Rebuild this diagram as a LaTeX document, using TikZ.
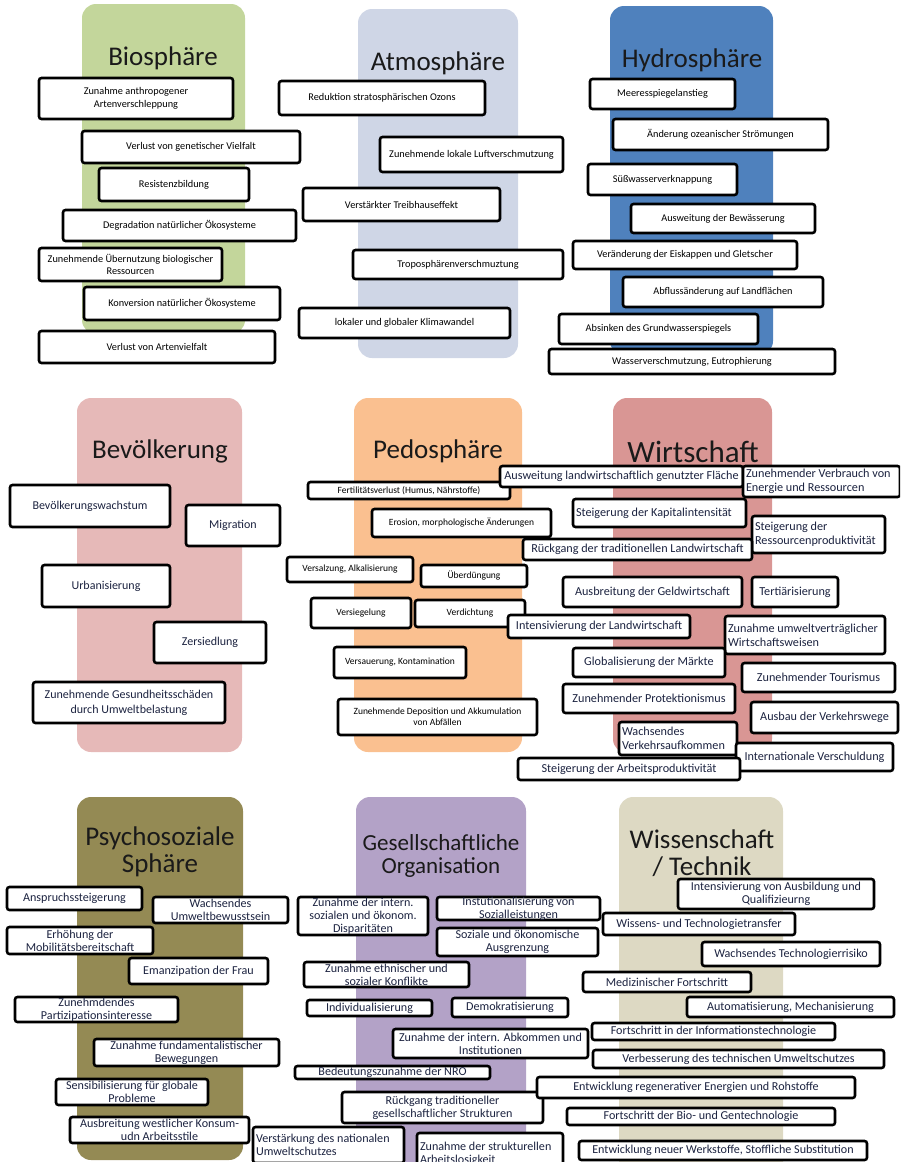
\documentclass[tikz,border=0pt]{standalone}
\usepackage{fontspec}
\setmainfont{Carlito}
\usepackage{tikz}
\definecolor{BioGreen}{HTML}{C3D69B}
\definecolor{AtmoGrey}{HTML}{CFD6E6}
\definecolor{HydroBlue}{HTML}{4F81BD}
\definecolor{PopRose}{HTML}{E6B9B8}
\definecolor{PedoApricot}{HTML}{FAC090}
\definecolor{EconRed}{HTML}{D99694}
\definecolor{PsychOlive}{HTML}{948A54}
\definecolor{SocLilac}{HTML}{B3A2C7}
\definecolor{TechSand}{HTML}{DDD9C3}
\definecolor{CellInk}{HTML}{1C2340}
\definecolor{TitleInk}{HTML}{1A1A1A}

\begin{document}
\begin{tikzpicture}[x=1pt, y=-1pt,
  panel/.style={fill=#1, rounded corners=14pt},
  sphere/.style={font=\fontsize{27}{27}\selectfont, text=TitleInk, align=center, inner sep=0pt},
  cell/.style={draw=black, fill=white, line width=2.6pt, rounded corners=2.5pt, inner xsep=2pt, inner ysep=-4pt, align=center, text=CellInk},
  small/.style={cell, text=black, font=\fontsize{10.3}{12.5}\selectfont},
  soil/.style={cell, text=black, font=\fontsize{9.5}{11}\selectfont},
  mid/.style={cell, font=\fontsize{12}{15}\selectfont},
  econ/.style={cell, font=\fontsize{12.2}{14}\selectfont},
  low/.style={cell, font=\fontsize{12.1}{13}\selectfont},
  flush/.style={align=flush left, inner xsep=3pt, text width=#1},
]
\useasboundingbox (0,0) rectangle (900,1162);
\clip (0,0) rectangle (900,1162);
\fill[panel=BioGreen] (82,4) rectangle (245,334);
\fill[panel=AtmoGrey] (358,9) rectangle (518,358);
\fill[panel=HydroBlue] (610,6) rectangle (773,355);
\fill[panel=PopRose] (77,398) rectangle (242,752);
\fill[panel=PedoApricot] (354,398) rectangle (522,752);
\fill[panel=EconRed] (613,398) rectangle (772,753);
\fill[panel=PsychOlive] (77,797) rectangle (243,1160);
\fill[panel=SocLilac] (356,797) rectangle (526,1180);
\fill[panel=TechSand] (619,797) rectangle (783,1180);

\node[sphere, anchor=base] (bioT) at (163,65) {Biosphäre};
\node[sphere, anchor=base] (atmT) at (438,70) {Atmosphäre};
\node[sphere, anchor=base] (hydT) at (692,67) {Hydrosphäre};
\node[sphere, anchor=base] (popT) at (160,458) {Bevölkerung};
\node[sphere, anchor=base] (pedT) at (438,458) {Pedosphäre};
\node[sphere, anchor=base, font=\fontsize{31}{31}\selectfont] (ecoT) at (693,462) {Wirtschaft};
\node[sphere] (psyT) at (160,852) {Psychosoziale\\Sphäre};
\node[sphere, font=\fontsize{23}{23}\selectfont] (socT) at (441,855.5) {Gesellschaftliche\\Organisation};
\node[sphere] (tecT) at (702,853) {Wissenschaft\\/ Technik};

\node[small, minimum width=194pt, minimum height=41pt] (bio1) at (136,98.5) {Zunahme anthropogener\\Artenverschleppung};
\node[small, minimum width=218pt, minimum height=32pt] (bio2) at (191,147) {Verlust von genetischer Vielfalt};
\node[small, minimum width=150pt, minimum height=33pt] (bio3) at (174,184.5) {Resistenzbildung};
\node[small, minimum width=233pt, minimum height=31pt] (bio4) at (179.5,225.5) {Degradation natürlicher Ökosysteme};
\node[small, minimum width=183pt, minimum height=33pt] (bio5) at (130.5,264.5) {Zunehmende Übernutzung biologischer\\Ressourcen};
\node[small, minimum width=196pt, minimum height=33pt] (bio6) at (182,303.5) {Konversion natürlicher Ökosysteme};
\node[small, minimum width=236pt, minimum height=32pt] (bio7) at (157,347) {Verlust von Artenvielfalt};

\node[small, minimum width=206pt, minimum height=34pt] (atm1) at (382,98) {Reduktion stratosphärischen Ozons};
\node[small, minimum width=183pt, minimum height=35pt] (atm2) at (471.5,154.5) {Zunehmende lokale Luftverschmutzung};
\node[small, minimum width=197pt, minimum height=33pt] (atm3) at (401.5,204.5) {Verstärkter Treibhauseffekt};
\node[small, minimum width=210pt, minimum height=29pt] (atm4) at (458,264.5) {Troposphärenverschmuztung};
\node[small, minimum width=211pt, minimum height=30pt] (atm5) at (404.5,323) {lokaler und globaler Klimawandel};

\node[small, minimum width=145pt, minimum height=30pt] (hyd1) at (662.5,94) {Meeresspiegelanstieg};
\node[small, minimum width=215pt, minimum height=31pt] (hyd2) at (720.5,134.5) {Änderung ozeanischer Strömungen};
\node[small, minimum width=149pt, minimum height=31pt] (hyd3) at (662.5,179.5) {Süßwasserverknappung};
\node[small, minimum width=184pt, minimum height=29pt] (hyd4) at (723,218.5) {Ausweitung der Bewässerung};
\node[small, minimum width=224pt, minimum height=28pt] (hyd5) at (685,255) {Veränderung der Eiskappen und Gletscher};
\node[small, minimum width=200pt, minimum height=30pt] (hyd6) at (723,292) {Abflussänderung auf Landflächen};
\node[small, minimum width=199pt, minimum height=30pt] (hyd7) at (658.5,329) {Absinken des Grundwasserspiegels};
\node[small, minimum width=286pt, minimum height=25pt] (hyd8) at (692,361.5) {Wasserverschmutzung, Eutrophierung};

\node[mid, minimum width=160pt, minimum height=42pt] (pop1) at (90,506) {Bevölkerungswachstum};
\node[mid, minimum width=94pt, minimum height=41pt] (pop2) at (233,525.5) {Migration};
\node[mid, minimum width=128pt, minimum height=42pt] (pop3) at (106,586) {Urbanisierung};
\node[mid, minimum width=112pt, minimum height=41pt] (pop4) at (210,642.5) {Zersiedlung};
\node[mid, minimum width=192pt, minimum height=41pt] (pop5) at (129,702.5) {Zunehmende Gesundheitsschäden\\durch Umweltbelastung};

\node[soil, minimum width=202pt, minimum height=17pt] (ped1) at (409,490.5) {Fertilitätsverlust (Humus, Nährstoffe)};
\node[soil, minimum width=179pt, minimum height=28pt] (ped2) at (461.5,523) {Erosion, morphologische Änderungen};
\node[soil, minimum width=126pt, minimum height=25pt] (ped3) at (350,569.5) {Versalzung, Alkalisierung};
\node[soil, minimum width=106pt, minimum height=22pt] (ped4) at (474,576) {Überdüngung};
\node[soil, minimum width=100pt, minimum height=30pt] (ped5) at (361,613) {Versiegelung};
\node[soil, minimum width=110pt, minimum height=27pt] (ped6) at (470,613.5) {Verdichtung};
\node[soil, minimum width=132pt, minimum height=31pt] (ped7) at (400,662.5) {Versauerung, Kontamination};
\node[soil, minimum width=199pt, minimum height=36pt] (ped8) at (437.5,717) {Zunehmende Deposition und Akkumulation\\von Abfällen};

\node[econ, minimum width=243pt, minimum height=21pt] (eco1) at (621.5,476.5) {Ausweitung landwirtschaftlich genutzter Fläche};
\node[econ, flush=151pt, minimum height=31pt] (eco2) at (821.5,481.5) {Zunehmender Verbrauch von\\Energie und Ressourcen};
\node[econ, flush=167pt, minimum height=28pt] (eco3) at (659.5,513) {Steigerung der Kapitalintensität};
\node[econ, flush=127pt, minimum height=37pt] (eco4) at (818.5,534.5) {Steigerung der\\Ressourcenproduktivität};
\node[econ, minimum width=229pt, minimum height=21pt] (eco5) at (637.5,549.5) {Rückgang der traditionellen Landwirtschaft};
\node[econ, minimum width=179pt, minimum height=30pt] (eco6) at (652.5,592) {Ausbreitung der Geldwirtschaft};
\node[econ, minimum width=86pt, minimum height=30pt] (eco7) at (795,592) {Tertiärisierung};
\node[econ, minimum width=182pt, minimum height=23pt] (eco8) at (599,626.5) {Intensivierung der Landwirtschaft};
\node[econ, flush=154pt, minimum height=38pt] (eco9) at (805,635) {Zunahme umweltverträglicher\\Wirtschaftsweisen};
\node[econ, minimum width=152pt, minimum height=29pt] (eco10) at (649,662.5) {Globalisierung der Märkte};
\node[econ, minimum width=153pt, minimum height=29pt] (eco11) at (818.5,677.5) {Zunehmender Tourismus};
\node[econ, minimum width=172pt, minimum height=29pt] (eco12) at (649,698.5) {Zunehmender Protektionismus};
\node[econ, minimum width=147pt, minimum height=31pt] (eco13) at (824.5,717.5) {Ausbau der Verkehrswege};
\node[econ, flush=112pt, minimum height=33pt] (eco14) at (678,738.5) {Wachsendes\\Verkehrsaufkommen};
\node[econ, minimum width=157pt, minimum height=28pt] (eco15) at (814.5,757) {Internationale Verschuldung};
\node[econ, minimum width=222pt, minimum height=22pt] (eco16) at (629,769) {Steigerung der Arbeitsproduktivität};

\node[low, minimum width=135pt, minimum height=23pt] (psy1) at (74.5,898.5) {Anspruchssteigerung};
\node[low, minimum width=135pt, minimum height=26pt] (psy2) at (220.5,910) {Wachsendes\\Umweltbewusstsein};
\node[low, minimum width=146pt, minimum height=27pt] (psy3) at (80,940.5) {Erhöhung der\\Mobilitätsbereitschaft};
\node[low, minimum width=139pt, minimum height=26pt] (psy4) at (198.5,971) {Emanzipation der Frau};
\node[low, minimum width=163pt, minimum height=25pt] (psy5) at (96.5,1009.5) {Zunehmdendes\\Partizipationsinteresse};
\node[low, minimum width=185pt, minimum height=27pt] (psy6) at (186.5,1052.5) {Zunahme fundamentalistischer\\Bewegungen};
\node[low, minimum width=152pt, minimum height=26pt] (psy7) at (132,1092) {Sensibilisierung für globale\\Probleme};
\node[low, minimum width=179pt, minimum height=26pt] (psy8) at (159.5,1130) {Ausbreitung westlicher Konsum-\\udn Arbeitsstile};

\node[low, minimum width=130pt, minimum height=38pt] (soc1) at (363,916) {Zunahme der intern.\\sozialen und ökonom.\\Disparitäten};
\node[low, minimum width=163pt, minimum height=23pt] (soc2) at (518.5,908.5) {Instutionalisierung von\\Sozialleistungen};
\node[low, minimum width=161pt, minimum height=28pt] (soc3) at (517.5,942) {Soziale und ökonomische\\Ausgrenzung};
\node[low, minimum width=165pt, minimum height=25pt] (soc4) at (386.5,974.5) {Zunahme ethnischer und\\sozialer Konflikte};
\node[low, minimum width=125pt, minimum height=16pt] (soc5) at (369.5,1008) {Individualisierung};
\node[low, minimum width=116pt, minimum height=19pt] (soc6) at (510,1007.5) {Demokratisierung};
\node[low, minimum width=195pt, minimum height=29pt] (soc7) at (490.5,1043.5) {Zunahme der intern. Abkommen und\\Institutionen};
\node[low, minimum width=195pt, minimum height=13pt] (soc8) at (392.5,1072.5) {Bedeutungszunahme der NRO};
\node[low, minimum width=201pt, minimum height=31pt] (soc9) at (442.5,1107.5) {Rückgang traditioneller\\gesellschaftlicher Strukturen};
\node[low, flush=145pt, minimum height=36pt] (soc10) at (328.5,1145) {Verstärkung des nationalen\\Umweltschutzes};
\node[low, flush=140pt, minimum height=42pt] (soc11) at (490,1154) {Zunahme der strukturellen\\Arbeitslosigkeit};

\node[low, minimum width=196pt, minimum height=30pt] (tec1) at (776,894) {Intensivierung von Ausbildung und\\Qualifizieurng};
\node[low, minimum width=192pt, minimum height=22pt] (tec2) at (699,924) {Wissens- und Technologietransfer};
\node[low, minimum width=178pt, minimum height=24pt] (tec3) at (791,954) {Wachsendes Technologierrisiko};
\node[low, minimum width=168pt, minimum height=20pt] (tec4) at (667,982) {Medizinischer Fortschritt};
\node[low, minimum width=207pt, minimum height=20pt] (tec5) at (790.5,1007) {Automatisierung, Mechanisierung};
\node[low, minimum width=243pt, minimum height=17pt] (tec6) at (713.5,1031.5) {Fortschritt in der Informationstechnologie};
\node[low, minimum width=291pt, minimum height=18pt] (tec7) at (738.5,1059) {Verbesserung des technischen Umweltschutzes};
\node[low, minimum width=318pt, minimum height=21pt] (tec8) at (696,1087.5) {Entwicklung regenerativer Energien und Rohstoffe};
\node[low, minimum width=268pt, minimum height=17pt] (tec9) at (701,1116.5) {Fortschritt der Bio- und Gentechnologie};
\node[low, minimum width=288pt, minimum height=19pt] (tec10) at (723,1150.5) {Entwicklung neuer Werkstoffe, Stoffliche Substitution};
\end{tikzpicture}
\end{document}
